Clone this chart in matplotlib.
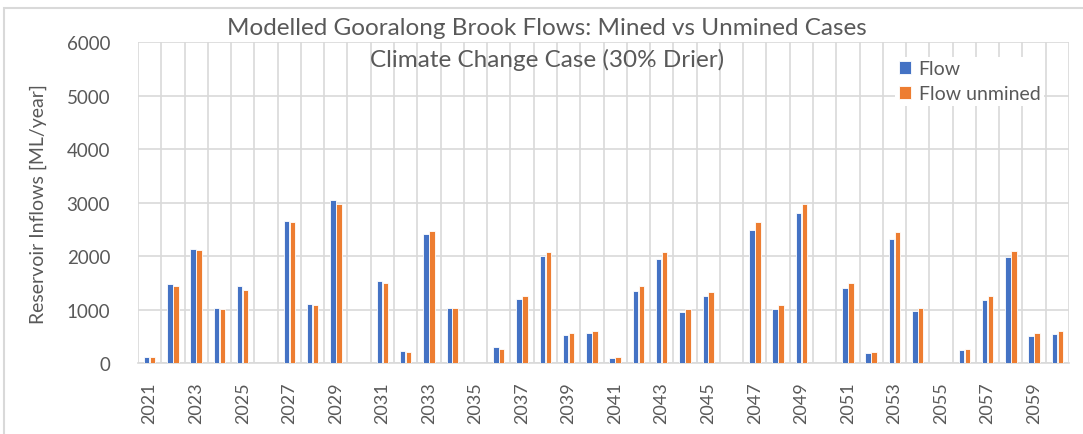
import matplotlib
matplotlib.use("Agg")
import matplotlib.pyplot as plt
import numpy as np
from matplotlib.patches import Rectangle

years = list(range(2021, 2061))
flow = [110, 1480, 2140, 1030, 1440, 0, 2660, 1100, 3050, 0,
        1540, 225, 2410, 1030, 0, 295, 1200, 1995, 530, 565,
        90, 1350, 1940, 950, 1250, 0, 2495, 1015, 2810, 0,
        1400, 195, 2325, 965, 0, 245, 1180, 1975, 515, 545]
flow_unmined = [110, 1450, 2105, 1015, 1370, 0, 2645, 1080, 2970, 0,
                1500, 205, 2475, 1030, 0, 260, 1250, 2075, 565, 595,
                110, 1440, 2075, 1015, 1330, 0, 2645, 1080, 2965, 0,
                1500, 205, 2455, 1030, 0, 265, 1250, 2095, 565, 595]
tick_labels = [str(y) for y in years[::2]]

plt.rcParams['font.family'] = ['Lato', 'DejaVu Sans']
fig = plt.figure(figsize=(10.83, 4.35), dpi=100)
ax = fig.add_axes([0.1274, 0.163, 0.8597, 0.738])

x = np.arange(len(years))
w = 0.235
grey = '#595959'
ax.bar(x - w / 2 - 0.01, flow, width=w, color='#4472C4', edgecolor='white', linewidth=0.6, label='Flow', zorder=3)
ax.bar(x + w / 2 + 0.01, flow_unmined, width=w, color='#ED7D31', edgecolor='white', linewidth=0.6, label='Flow unmined', zorder=3)

ax.set_xlim(-0.5, len(years) - 0.5)
ax.set_ylim(0, 6000)
ax.set_yticks(np.arange(0, 6001, 1000))
ax.set_xticks(x[::2])
ax.set_xticklabels(tick_labels, rotation=90, fontsize=13, color=grey)
ax.set_xticks(np.arange(-0.5, len(years), 1), minor=True)
ax.tick_params(axis='y', labelsize=13.5, colors=grey, length=0, pad=20)
ax.tick_params(axis='x', which='both', length=0, pad=13)
ax.grid(axis='y', which='major', color='#D9D9D9', linewidth=1.2, zorder=0)
ax.grid(axis='x', which='minor', color='#D9D9D9', linewidth=1.2, zorder=0)
ax.grid(axis='x', which='major', visible=False)
for s in ['top', 'right', 'left']:
    ax.spines[s].set_visible(False)
ax.spines['bottom'].set_color('#D9D9D9')
ax.spines['bottom'].set_linewidth(1.2)

ax.set_ylabel('Reservoir Inflows [ML/year]', fontsize=14, color=grey, labelpad=14)

fig.text(0.505, 0.935, 'Modelled Gooralong Brook Flows: Mined vs Unmined Cases',
         ha='center', va='center', fontsize=17.5, color=grey)
fig.text(0.505, 0.862, 'Climate Change Case (30% Drier)',
         ha='center', va='center', fontsize=17.5, color=grey)

leg = ax.legend(loc='upper left', bbox_to_anchor=(0.803, 0.985), frameon=True, fontsize=14,
                handlelength=0.6, handleheight=0.6, handletextpad=0.4, labelspacing=0.4,
                borderpad=0.2, facecolor='white', edgecolor='none', framealpha=1)
for t in leg.get_texts():
    t.set_color(grey)

fig.add_artist(Rectangle((0.0037, -0.01), 1.0, 0.99, transform=fig.transFigure,
                         fill=False, edgecolor='#D9D9D9', linewidth=1.5))

fig.savefig('out.png', dpi=100)
